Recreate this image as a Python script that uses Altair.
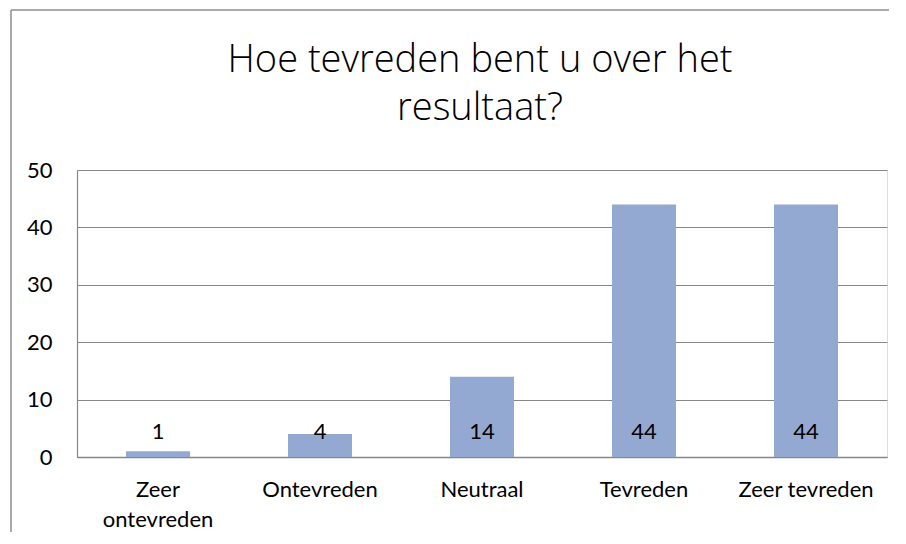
import altair as alt
import pandas as pd

categories = ["Zeer ontevreden", "Ontevreden", "Neutraal", "Tevreden", "Zeer tevreden"]
counts = [1, 4, 14, 44, 44]
y_ticks = [0, 10, 20, 30, 40, 50]
title_lines = ["Hoe tevreden bent u over het", "resultaat?"]

df = pd.DataFrame({"categorie": categories, "aantal": counts})
frame_df = pd.DataFrame({"k": [0]})

FONT = "Lato"
GRAY = "#878787"
FRAME = "#8e8e8e"

x_enc = alt.X(
    "categorie:N",
    sort=categories,
    scale=alt.Scale(paddingInner=0, paddingOuter=0),
    axis=alt.Axis(
        title=None,
        labelAngle=0,
        ticks=False,
        tickSize=0,
        labelPadding=22,
        labelFontSize=22,
        labelFont=FONT,
        labelColor="black",
        labelLineHeight=30,
        labelExpr="datum.label == 'Zeer ontevreden' ? ['Zeer', 'ontevreden'] : datum.label",
        domainColor=GRAY,
        domainWidth=1.5,
        grid=False,
    ),
)

y_enc = alt.Y(
    "aantal:Q",
    scale=alt.Scale(domain=[0, 50], nice=False),
    axis=alt.Axis(
        title=None,
        values=y_ticks,
        ticks=False,
        tickSize=0,
        labelPadding=25,
        labelFontSize=22,
        labelFont=FONT,
        labelColor="black",
        domainColor=GRAY,
        domainWidth=1.2,
        grid=True,
        gridColor=GRAY,
        gridWidth=1.2,
    ),
)

bars = alt.Chart(df).mark_bar(
    color="#94A9D1", width=alt.RelativeBandSize(0.395)
).encode(x=x_enc, y=y_enc)

labels = alt.Chart(df).mark_text(
    font=FONT, fontSize=22, color="black", baseline="alphabetic", dy=-18
).encode(
    x=alt.X("categorie:N", sort=categories),
    y=alt.datum(0),
    text="aantal:Q",
)

border_top = alt.Chart(frame_df).mark_rule(color=FRAME, strokeWidth=1.5).encode(
    x=alt.value(-66), x2=alt.value(812), y=alt.value(-160), y2=alt.value(-160)
)
border_left = alt.Chart(frame_df).mark_rule(color=FRAME, strokeWidth=1.5).encode(
    x=alt.value(-66), x2=alt.value(-66), y=alt.value(-160), y2=alt.value(500)
)

title = alt.Chart(frame_df).mark_text(
    font="Open Sans", fontSize=38, fontWeight=300, color="black",
    baseline="alphabetic", align="center", lineHeight=48,
).encode(
    x=alt.value(403), y=alt.value(-98), text=alt.value(title_lines)
)

chart = (
    alt.layer(border_top, border_left, bars, labels, title)
    .properties(
        width=810,
        height=287,
        autosize=alt.AutoSizeParams(type="none"),
        padding={"left": 69, "top": 162, "right": 11, "bottom": 75},
    )
    .configure_view(stroke=None)
    .configure(background="white")
)

chart.save("out.html", embed_options={"renderer": "svg", "actions": False})
